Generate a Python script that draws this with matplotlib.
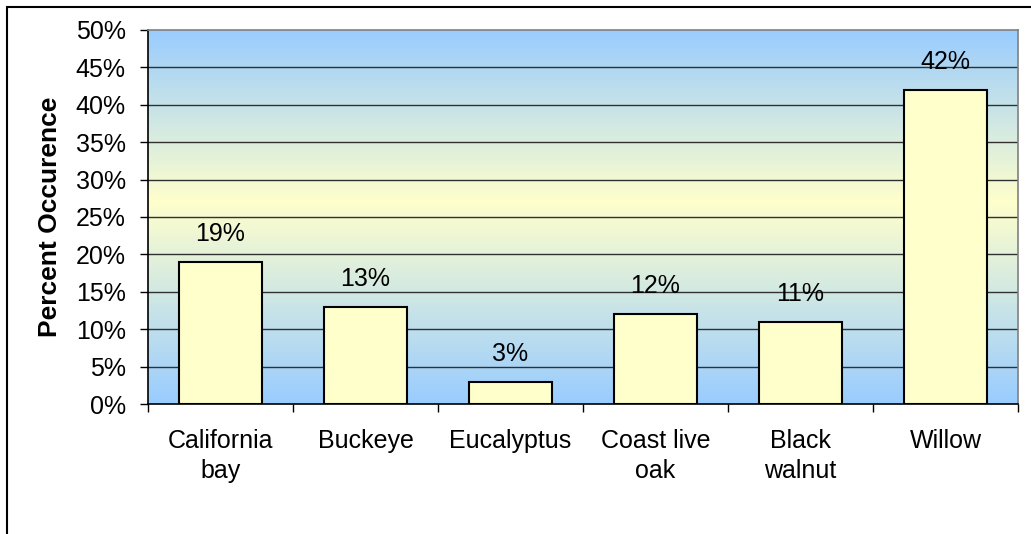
#!/usr/bin/env python3
import numpy as np
import matplotlib
matplotlib.use("Agg")
import matplotlib.pyplot as plt
from matplotlib.colors import LinearSegmentedColormap
from matplotlib.patches import Rectangle

plt.rcParams['font.family'] = ['Liberation Sans', 'DejaVu Sans']

categories = ["California\nbay", "Buckeye", "Eucalyptus", "Coast live\noak",
              "Black\nwalnut", "Willow"]
values = [0.19, 0.13, 0.03, 0.12, 0.11, 0.42]
yticks = [0.0, 0.05, 0.10, 0.15, 0.20, 0.25, 0.30, 0.35, 0.40, 0.45, 0.50]

W, H = 1031, 534
fig = plt.figure(figsize=(W / 100, H / 100), dpi=100)
ax = fig.add_axes([148 / W, (H - 404) / H, 870 / W, 374 / H])

# background gradient blue -> pale yellow -> blue
blue = (153 / 255, 204 / 255, 1.0)
yellow = (1.0, 1.0, 204 / 255)
cmap = LinearSegmentedColormap.from_list(
    "bg", [(0.0, blue), (0.54, yellow), (1.0, blue)])
grad = np.linspace(0, 1, 256).reshape(-1, 1)
ax.imshow(grad, cmap=cmap, aspect='auto', origin='lower',
          extent=[-0.5, len(values) - 0.5, 0, 0.5], zorder=0)

for yt in yticks[1:-1]:
    ax.axhline(yt, color="#303030", lw=1.0, zorder=1)

x = np.arange(len(values))
ax.bar(x, values, width=0.57, color="#FFFFCC", edgecolor="black",
       linewidth=1.5, zorder=2)

for xi, v in zip(x, values):
    ax.annotate("%d%%" % round(v * 100), (xi, v), xytext=(0, 20),
                textcoords="offset points", ha='center', va='center',
                fontsize=18, zorder=3)

ax.set_xlim(-0.5, len(values) - 0.5)
ax.set_ylim(0, 0.5)
ax.set_yticks(yticks)
ax.set_yticklabels(["%d%%" % round(t * 100) for t in yticks])
ax.set_xticks(np.arange(len(values) + 1) - 0.5, minor=False)
ax.set_xticklabels([])
ax.set_xticks(x, minor=True)
ax.set_xticklabels(categories, minor=True, linespacing=1.3)
ax.tick_params(axis='x', which='minor', length=0, pad=18, labelsize=18)
ax.tick_params(axis='x', which='major', length=6, width=1, direction='out',
               color="black")
ax.tick_params(axis='y', length=6, width=1, direction='out', pad=10,
               labelsize=18)

ax.spines['top'].set_color("#808080")
ax.spines['right'].set_color("#808080")
ax.spines['left'].set_color("black")
ax.spines['bottom'].set_color("black")
for s in ax.spines.values():
    s.set_linewidth(1.2)

ax.set_ylabel("Percent Occurence", fontsize=19, fontweight='bold', labelpad=10)

# outer chart border (cropped on right and bottom)
fig.patches.append(Rectangle((7 / W, -0.05), 1.1, (H - 7) / H + 0.05,
                             transform=fig.transFigure, fill=False,
                             edgecolor="black", lw=1.5))

fig.savefig("out.png", dpi=100)
